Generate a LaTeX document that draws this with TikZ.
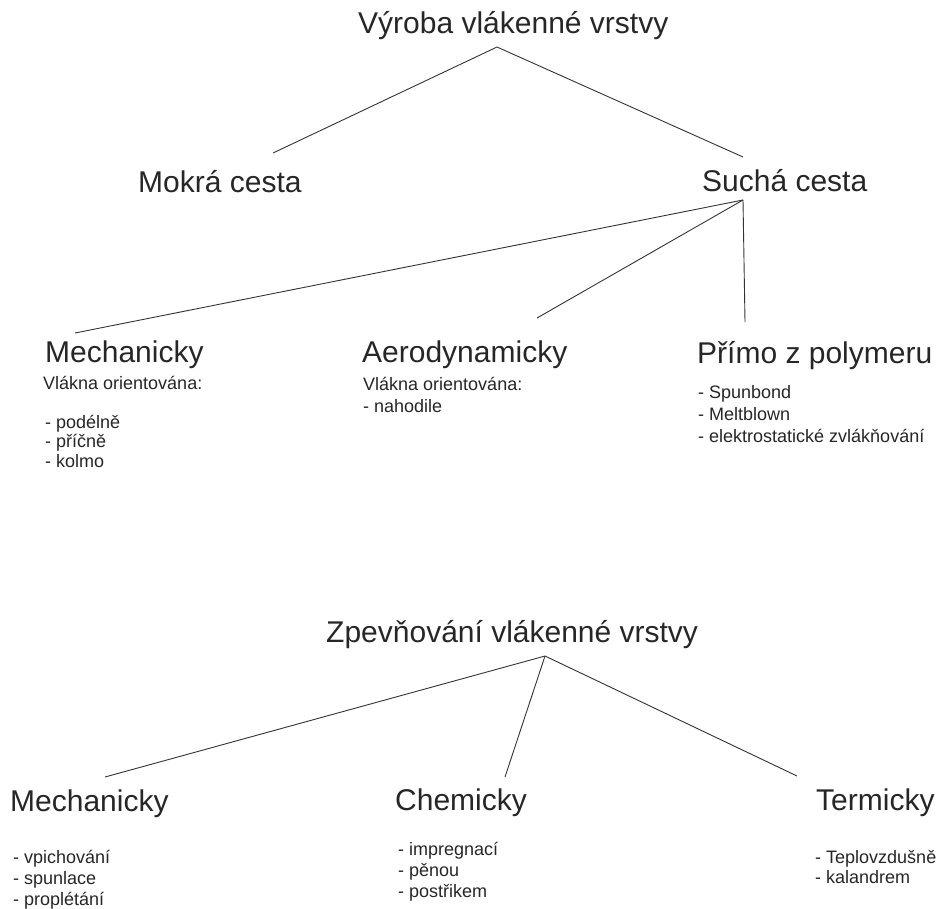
\documentclass[tikz,border=0pt]{standalone}
\usepackage{fontspec}
\setmainfont{Liberation Sans}
\begin{document}
\begin{tikzpicture}[x=1pt,y=-1pt,
    head/.style={anchor=base west,inner sep=0pt,text=black!85,font=\fontsize{30}{36}\selectfont},
    item/.style={anchor=base west,inner sep=0pt,text=black!85,font=\fontsize{18}{21}\selectfont},
    link/.style={line width=0.9pt,black!80}]
    \useasboundingbox (0,0) rectangle (942,908);
    % upper tree
    \node[head] (vyroba) at (358,33) {Výroba vlákenné vrstvy};
    \node[head] (mokra) at (138,192) {Mokrá cesta};
    \node[head] (sucha) at (702,191) {Suchá cesta};
    \node[head] (mech) at (45,362) {Mechanicky};
    \node[head] (aero) at (362,362) {Aerodynamicky};
    \node[head] (primo) at (697,363) {Přímo z polymeru};
    \node[item] (mech-note) at (43,389) {Vlákna orientována:};
    \foreach \t [count=\i] in {- podélně, - příčně, - kolmo}
        \node[item] (mech-\i) at (45,428+19.5*\i-19.5) {\t};
    \node[item] (aero-note) at (363,390) {Vlákna orientována:};
    \node[item] (aero-1) at (363,412) {- nahodile};
    \node[item] (primo-1) at (698,398) {- Spunbond};
    \node[item] (primo-2) at (698,420) {- Meltblown};
    \node[item] (primo-3) at (698,442) {- elektrostatické zvlákňování};
    \coordinate (vyroba-s) at (497,47);
    \coordinate (mokra-n) at (273,153);
    \coordinate (sucha-n) at (743,157);
    \coordinate (sucha-s) at (743,200);
    \coordinate (mech-n) at (75,333);
    \coordinate (aero-n) at (537,318);
    \coordinate (primo-n) at (745,322);
    \draw[link] (mokra-n) -- (vyroba-s) -- (sucha-n);
    \draw[link] (sucha-s) -- (mech-n);
    \draw[link] (sucha-s) -- (aero-n);
    \draw[link] (sucha-s) -- (primo-n);
    % lower tree
    \node[head] (zpev) at (326,642) {Zpevňování vlákenné vrstvy};
    \node[head] (zmech) at (10,811) {Mechanicky};
    \node[head] (chem) at (395,810) {Chemicky};
    \node[head] (term) at (816,810) {Termicky};
    \foreach \t [count=\i] in {- vpichování, - spunlace, - proplétání}
        \node[item] (zmech-\i) at (13,863+21*\i-21) {\t};
    \foreach \t [count=\i] in {- impregnací, - pěnou, - postřikem}
        \node[item] (chem-\i) at (398,855+21*\i-21) {\t};
    \foreach \t [count=\i] in {- Teplovzdušně, - kalandrem}
        \node[item] (term-\i) at (815,863+20*\i-20) {\t};
    \coordinate (zpev-s) at (545,656);
    \coordinate (zmech-n) at (105,777);
    \coordinate (chem-n) at (505,777);
    \coordinate (term-n) at (797,776);
    \draw[link] (zpev-s) -- (zmech-n);
    \draw[link] (zpev-s) -- (chem-n);
    \draw[link] (zpev-s) -- (term-n);
\end{tikzpicture}
\end{document}
